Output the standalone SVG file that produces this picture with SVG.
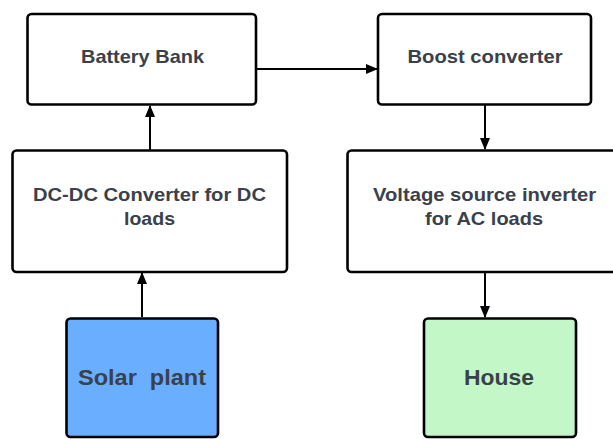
<svg xmlns="http://www.w3.org/2000/svg" width="613" height="439" viewBox="0 0 613 439">
<style>
.box{fill:#ffffff;stroke:#000000;stroke-width:2.6}
.t{font-family:"Liberation Sans",Arial,sans-serif;font-weight:bold;fill:#3a414a;text-anchor:middle;font-size:18.5px;white-space:pre}
.tb{font-size:22.5px}
.c{stroke:#000000;stroke-width:2;fill:none}
</style>
<defs>
<marker id="ah" markerWidth="12" markerHeight="10" refX="11" refY="5" orient="auto" markerUnits="userSpaceOnUse">
<path d="M0,0 L12,5 L0,10 Z" fill="#000000"/>
</marker>
</defs>
<rect width="613" height="439" fill="#ffffff"/>
<g id="connectors">
<line class="c" x1="257" y1="69" x2="377" y2="69" marker-end="url(#ah)"/>
<line class="c" x1="150" y1="150" x2="150" y2="106" marker-end="url(#ah)"/>
<line class="c" x1="142" y1="317" x2="142" y2="273" marker-end="url(#ah)"/>
<line class="c" x1="485" y1="105" x2="485" y2="149" marker-end="url(#ah)"/>
<line class="c" x1="485" y1="273" x2="485" y2="317" marker-end="url(#ah)"/>
</g>
<g id="battery">
<rect class="box" x="27.5" y="14" width="228.5" height="90.5" rx="4"/>
<text class="t" x="142.5" y="63" textLength="123" lengthAdjust="spacingAndGlyphs">Battery Bank</text>
</g>
<g id="boost">
<rect class="box" x="378" y="14" width="213" height="90.5" rx="4"/>
<text class="t" x="485" y="63" textLength="155" lengthAdjust="spacingAndGlyphs">Boost converter</text>
</g>
<g id="dcdc">
<rect class="box" x="12.5" y="150.5" width="274.5" height="121.5" rx="4"/>
<text class="t" x="149.5" y="201" textLength="233" lengthAdjust="spacingAndGlyphs">DC-DC Converter for DC</text>
<text class="t" x="149.5" y="225" textLength="51" lengthAdjust="spacingAndGlyphs">loads</text>
</g>
<g id="vsi">
<rect class="box" x="347.5" y="150.5" width="275" height="121.5" rx="4"/>
<text class="t" x="484.5" y="201" textLength="223" lengthAdjust="spacingAndGlyphs">Voltage source inverter</text>
<text class="t" x="484" y="225" textLength="118" lengthAdjust="spacingAndGlyphs">for AC loads</text>
</g>
<g id="solar">
<rect class="box" x="66.5" y="318.5" width="151.5" height="118.5" rx="4" style="fill:#6aaeff"/>
<text class="t tb" x="142" y="385" textLength="128" lengthAdjust="spacingAndGlyphs" xml:space="preserve">Solar  plant</text>
</g>
<g id="house">
<rect class="box" x="424" y="318.5" width="152" height="118.5" rx="4" style="fill:#c3f7c8"/>
<text class="t tb" x="499" y="385" textLength="70" lengthAdjust="spacingAndGlyphs">House</text>
</g>
</svg>
